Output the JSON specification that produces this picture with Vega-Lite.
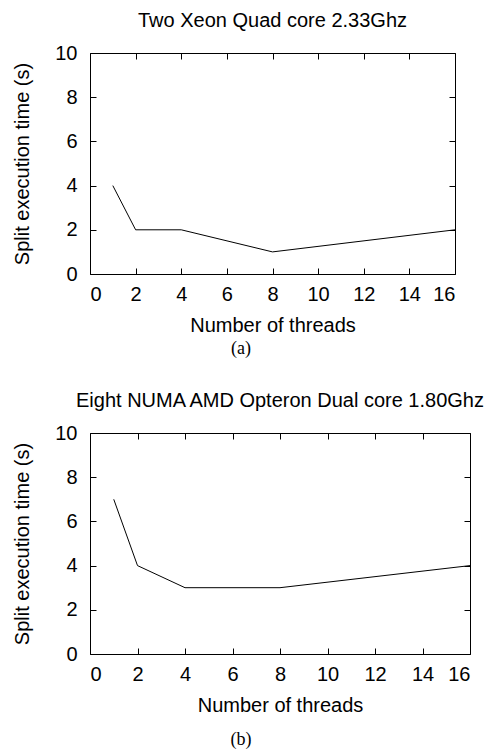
{
  "$schema": "https://vega.github.io/schema/vega-lite/v6.json",
  "background": "white",
  "padding": {"left": 12, "top": 10, "right": 0, "bottom": 0},
  "spacing": 32,
  "datasets": {
    "a": [
      {"threads": 1, "time": 4},
      {"threads": 2, "time": 2},
      {"threads": 4, "time": 2},
      {"threads": 8, "time": 1},
      {"threads": 16, "time": 2}
    ],
    "b": [
      {"threads": 1, "time": 7},
      {"threads": 2, "time": 4},
      {"threads": 4, "time": 3},
      {"threads": 8, "time": 3},
      {"threads": 16, "time": 4}
    ]
  },
  "config": {
    "view": {"stroke": "black", "strokeWidth": 1},
    "axis": {
      "grid": false,
      "domain": false,
      "tickColor": "black",
      "tickSize": -6,
      "labelFont": "Liberation Sans",
      "labelFontSize": 20,
      "labelColor": "black",
      "titleFont": "Liberation Sans",
      "titleFontSize": 20,
      "titleFontWeight": "normal",
      "titleColor": "black"
    },
    "axisX": {"labelPadding": 16},
    "axisY": {"labelPadding": 19},
    "title": {"font": "Liberation Sans", "fontSize": 20, "fontWeight": "normal", "color": "black", "offset": 12}
  },
  "vconcat": [
    {
      "title": {"text": "(a)", "orient": "bottom", "anchor": "middle", "font": "Liberation Serif", "fontSize": 18, "offset": 4, "dx": 6},
      "vconcat": [
        {
          "width": 365,
          "height": 221,
          "title": {"text": "Two Xeon Quad core 2.33Ghz"},
          "data": {"name": "a"},
          "layer": [
            {
              "mark": {"type": "line", "color": "black", "strokeWidth": 1},
              "encoding": {
                "x": {"field": "threads", "type": "quantitative", "scale": {"domain": [0, 16], "nice": false}, "axis": {"values": [0, 2, 4, 6, 8, 10, 12, 14, 16], "title": "Number of threads", "titlePadding": 11}},
                "y": {"field": "time", "type": "quantitative", "scale": {"domain": [0, 10], "nice": false}, "axis": {"values": [0, 2, 4, 6, 8, 10], "title": "Split execution time (s)", "titlePadding": 22}}
              }
            },
            {
              "mark": {"type": "line", "opacity": 0},
              "encoding": {
                "x": {"field": "threads", "type": "quantitative", "scale": {"domain": [0, 16], "nice": false}, "axis": {"orient": "top", "values": [0, 2, 4, 6, 8, 10, 12, 14, 16], "labels": false, "title": null}},
                "y": {"field": "time", "type": "quantitative", "scale": {"domain": [0, 10], "nice": false}, "axis": {"orient": "right", "values": [0, 2, 4, 6, 8, 10], "labels": false, "title": null}}
              }
            }
          ],
          "resolve": {"axis": {"x": "independent", "y": "independent"}}
        }
      ]
    },
    {
      "title": {"text": "(b)", "orient": "bottom", "anchor": "middle", "font": "Liberation Serif", "fontSize": 18, "offset": 15, "dx": -8},
      "vconcat": [
        {
          "width": 380,
          "height": 221,
          "title": {"text": "Eight NUMA AMD Opteron Dual core 1.80Ghz"},
          "data": {"name": "b"},
          "layer": [
            {
              "mark": {"type": "line", "color": "black", "strokeWidth": 1},
              "encoding": {
                "x": {"field": "threads", "type": "quantitative", "scale": {"domain": [0, 16], "nice": false}, "axis": {"values": [0, 2, 4, 6, 8, 10, 12, 14, 16], "title": "Number of threads", "titlePadding": 11}},
                "y": {"field": "time", "type": "quantitative", "scale": {"domain": [0, 10], "nice": false}, "axis": {"values": [0, 2, 4, 6, 8, 10], "title": "Split execution time (s)", "titlePadding": 22}}
              }
            },
            {
              "mark": {"type": "line", "opacity": 0},
              "encoding": {
                "x": {"field": "threads", "type": "quantitative", "scale": {"domain": [0, 16], "nice": false}, "axis": {"orient": "top", "values": [0, 2, 4, 6, 8, 10, 12, 14, 16], "labels": false, "title": null}},
                "y": {"field": "time", "type": "quantitative", "scale": {"domain": [0, 10], "nice": false}, "axis": {"orient": "right", "values": [0, 2, 4, 6, 8, 10], "labels": false, "title": null}}
              }
            }
          ],
          "resolve": {"axis": {"x": "independent", "y": "independent"}}
        }
      ]
    }
  ]
}
